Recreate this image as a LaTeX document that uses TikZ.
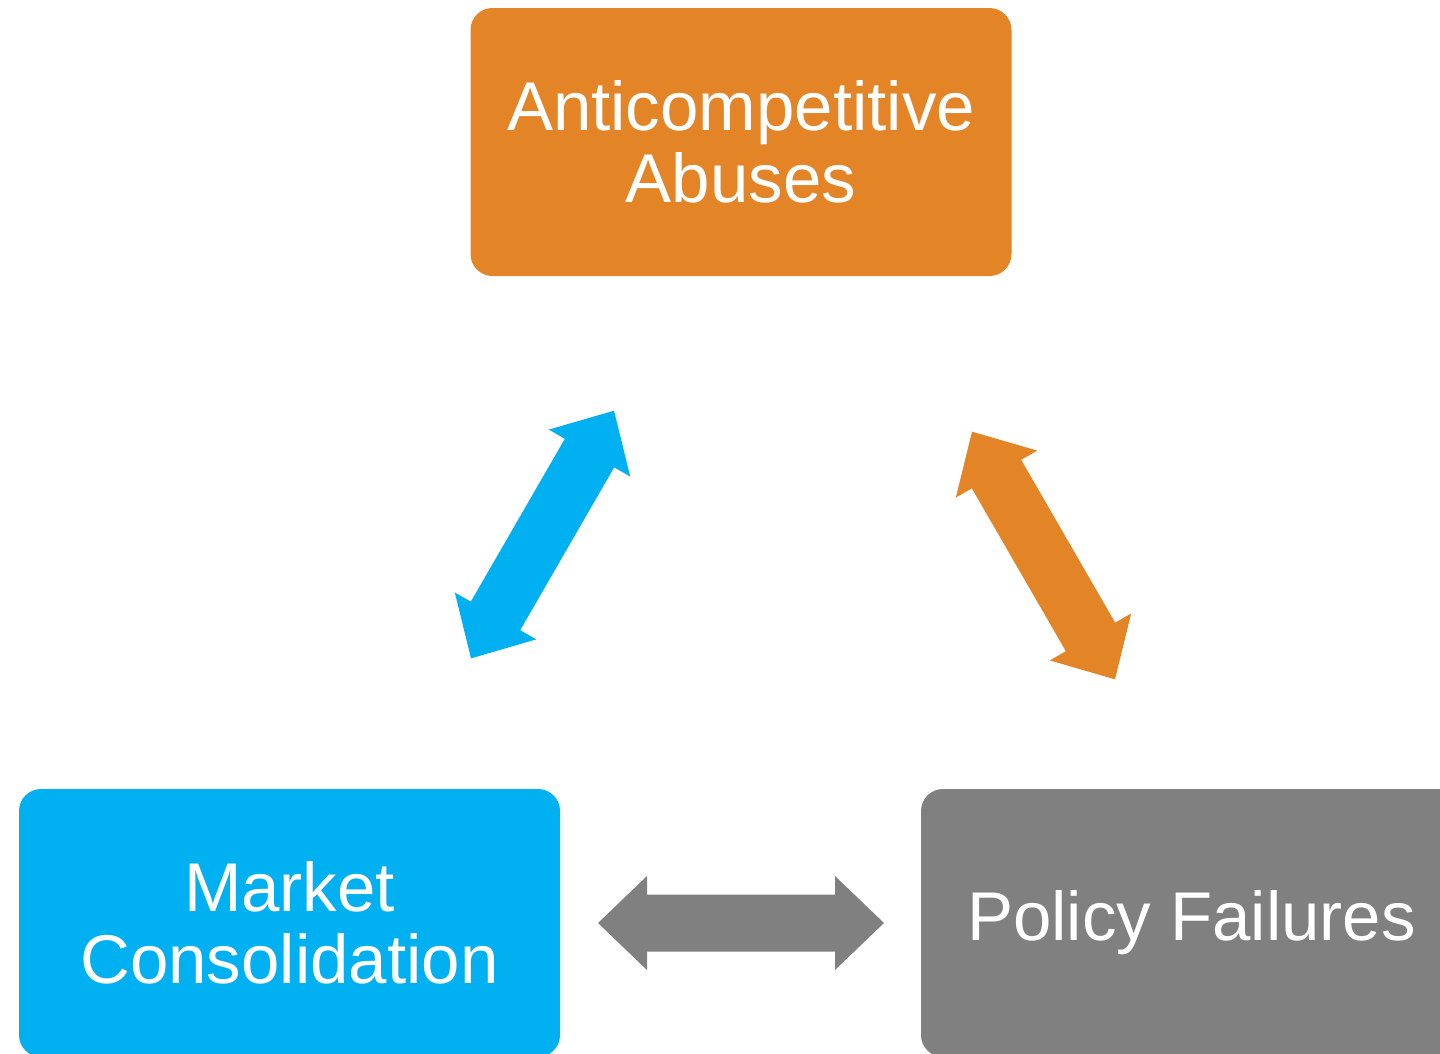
\documentclass[tikz,border=0pt]{standalone}
\usepackage{fontspec}
\setmainfont{Liberation Sans}
\definecolor{cOrange}{HTML}{E38427}
\definecolor{cBlue}{HTML}{00B0F0}
\definecolor{cGray}{HTML}{808080}
\tikzset{
  box/.style={rounded corners=22pt, minimum width=541pt, minimum height=268pt,
    inner sep=0pt, align=center, text=white,
    font=\fontsize{69}{72}\selectfont},
  dblarrow/.pic={
    \fill (-143,0) -- (-94,47) -- (-94,28.5) -- (94,28.5) -- (94,47)
      -- (143,0) -- (94,-47) -- (94,-28.5) -- (-94,-28.5) -- (-94,-47) -- cycle;
  }
}
\begin{document}
\begin{tikzpicture}[x=1pt,y=-1pt]
\path[use as bounding box] (0,0) rectangle (1440,1053);
\clip (0,0) rectangle (1440,1053);
\node[box, fill=cOrange] (abuses) at (741,142) {Anticompetitive\\Abuses};
\node[box, fill=cBlue] (market) at (289.5,923) {Market\\Consolidation};
\node[box, fill=cGray] (policy) at (1191.5,923) {Policy Failures};
\pic[cBlue, rotate=60] (arrowBlue) at (542.5,534.5) {dblarrow};
\pic[cOrange, rotate=-60] (arrowOrange) at (1043.5,555.5) {dblarrow};
\pic[cGray] (arrowGray) at (741,923) {dblarrow};
\end{tikzpicture}
\end{document}
